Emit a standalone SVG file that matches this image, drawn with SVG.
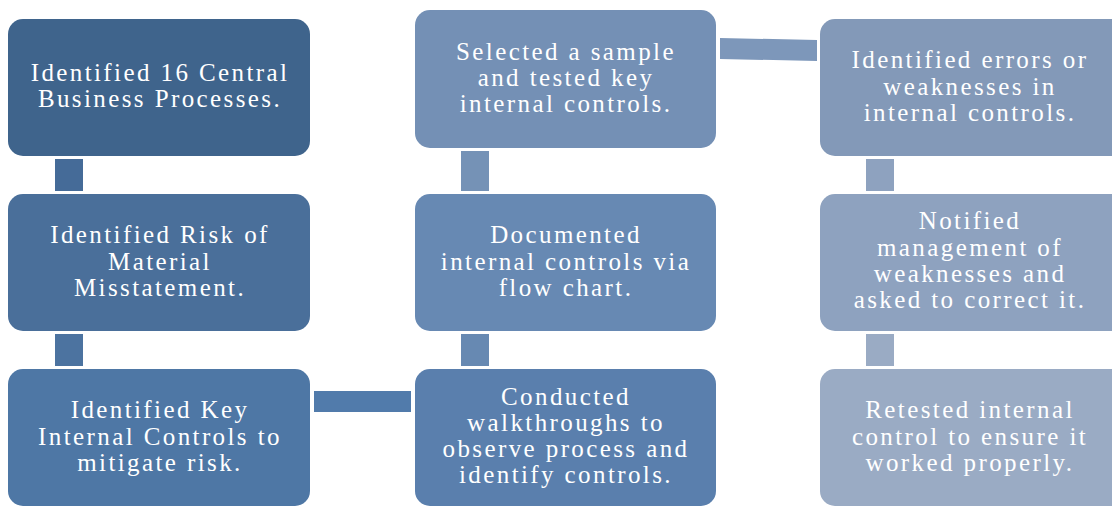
<svg xmlns="http://www.w3.org/2000/svg" width="1112" height="506" viewBox="0 0 1112 506">
<style>
text{font-family:'Liberation Serif',serif;font-size:25px;fill:#fff;text-anchor:middle;letter-spacing:2.4px}
</style>
<rect width="1112" height="506" fill="#fff"/>
<g id="connectors">
<rect x="55" y="159" width="28" height="32" fill="#456B98"/>
<rect x="55" y="334" width="28" height="32" fill="#4C73A0"/>
<rect x="314" y="391" width="97" height="21" fill="#517BAB"/>
<rect x="461" y="151" width="28" height="40" fill="#7592B6"/>
<rect x="461" y="334" width="28" height="32" fill="#6789B2"/>
<polygon points="720,38 817,40 817,61 720,59" fill="#7D97BA"/>
<rect x="866" y="159" width="28" height="32" fill="#8EA2BF"/>
<rect x="866" y="334" width="28" height="32" fill="#9AABC4"/>
</g>
<g id="n1"><rect x="8" y="19" width="302" height="137" rx="15" fill="#3F648C"/>
<text x="160" y="81">Identified 16 Central</text><text x="160" y="107">Business Processes.</text></g>
<g id="n2"><rect x="8" y="194" width="302" height="137" rx="15" fill="#4A6F9A"/>
<text x="160" y="243">Identified Risk of</text><text x="160" y="270">Material</text><text x="160" y="296">Misstatement.</text></g>
<g id="n3"><rect x="8" y="369" width="302" height="137" rx="15" fill="#4E77A5"/>
<text x="160" y="418">Identified Key</text><text x="160" y="445">Internal Controls to</text><text x="160" y="471">mitigate risk.</text></g>
<g id="n4"><rect x="415" y="369" width="301" height="137" rx="15" fill="#5A7FAD"/>
<text x="566" y="405">Conducted</text><text x="566" y="431">walkthroughs to</text><text x="566" y="457">observe process and</text><text x="566" y="483">identify controls.</text></g>
<g id="n5"><rect x="415" y="194" width="301" height="137" rx="15" fill="#6789B3"/>
<text x="566" y="243">Documented</text><text x="566" y="270">internal controls via</text><text x="566" y="296">flow chart.</text></g>
<g id="n6"><rect x="415" y="10" width="301" height="138" rx="15" fill="#7490B5"/>
<text x="566" y="60">Selected a sample</text><text x="566" y="86">and tested key</text><text x="566" y="112">internal controls.</text></g>
<g id="n7"><rect x="820" y="19" width="310" height="137" rx="15" fill="#8399B8"/>
<text x="970" y="68">Identified errors or</text><text x="970" y="95">weaknesses in</text><text x="970" y="121">internal controls.</text></g>
<g id="n8"><rect x="820" y="194" width="310" height="137" rx="15" fill="#8EA2BF"/>
<text x="970" y="229">Notified</text><text x="970" y="256">management of</text><text x="970" y="282">weaknesses and</text><text x="970" y="308">asked to correct it.</text></g>
<g id="n9"><rect x="820" y="369" width="310" height="137" rx="15" fill="#9AABC4"/>
<text x="970" y="418">Retested internal</text><text x="970" y="445">control to ensure it</text><text x="970" y="471">worked properly.</text></g>
</svg>
